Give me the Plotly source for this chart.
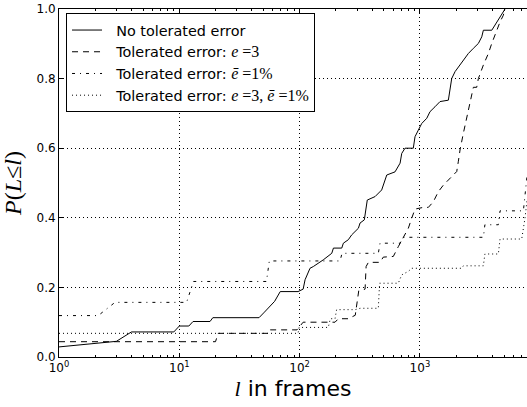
import plotly.graph_objects as go

# ---- data ----
l_solid = [1, 3, 4, 9, 10, 12, 13, 18, 19, 46, 51, 57, 62, 69, 97, 107, 111, 122, 130, 157,
           185, 191, 224, 231, 254, 271, 308, 318, 345, 365, 424, 481, 530, 621, 684, 706, 752, 881, 910, 970,
           1035, 1140, 1213, 1334, 1469, 1723, 1779, 1837, 1959, 2155, 2296, 2525, 2781, 3060, 3265, 3368,
           3955, 4210, 4485, 4786, 5098]
p_solid = [0.029, 0.045, 0.072, 0.072, 0.089, 0.089, 0.102, 0.102, 0.113, 0.113, 0.129, 0.145, 0.160, 0.188,
           0.188, 0.195, 0.222, 0.255, 0.260, 0.279, 0.298, 0.313, 0.313, 0.327, 0.337, 0.351, 0.370, 0.385,
           0.394, 0.451, 0.461, 0.480, 0.523, 0.532, 0.557, 0.585, 0.600, 0.600, 0.633, 0.652, 0.671, 0.686,
           0.705, 0.719, 0.734, 0.738, 0.777, 0.800, 0.820, 0.839, 0.853, 0.872, 0.887, 0.901, 0.920, 0.939,
           0.939, 0.954, 0.968, 0.982, 1.000]

l_dash = [1, 20, 21, 56, 57, 95, 107, 197, 210, 254, 290, 302, 310, 350, 357, 373, 466, 496, 601, 661,
          684, 801, 855, 910, 1068, 1175, 1292, 1422, 1567, 1779, 2023, 2084, 2155, 2296, 2525, 2697, 2781,
          2965, 3060, 3368, 3704, 3955, 4210, 4349, 4634, 4935, 5098]
p_dash = [0.044, 0.044, 0.068, 0.068, 0.078, 0.078, 0.100, 0.100, 0.110, 0.110, 0.120, 0.170, 0.190, 0.195,
          0.260, 0.272, 0.272, 0.287, 0.289, 0.317, 0.327, 0.370, 0.399, 0.425, 0.430, 0.430, 0.446, 0.475,
          0.494, 0.514, 0.533, 0.561, 0.595, 0.643, 0.710, 0.758, 0.775, 0.775, 0.800, 0.839, 0.872, 0.901,
          0.925, 0.940, 0.963, 0.982, 1.000]

l_dashdot = [1, 2.12, 2.92, 11.5, 13.1, 53, 56, 217, 225, 451, 466, 684, 728, 3368, 3467, 4485, 4634, 7244, 7762]
p_dashdot = [0.119, 0.119, 0.157, 0.157, 0.217, 0.217, 0.276, 0.276, 0.298, 0.298, 0.327, 0.327, 0.344, 0.344,
             0.380, 0.380, 0.420, 0.420, 0.520]

l_dot = [1, 97, 99, 173, 180, 197, 203, 289, 318, 451, 462, 661, 706, 801, 855, 2225, 2296, 3368, 3467,
         4485, 4634, 7015, 7476, 7762]
p_dot = [0.068, 0.068, 0.085, 0.085, 0.110, 0.110, 0.136, 0.136, 0.140, 0.140, 0.212, 0.212, 0.236, 0.246,
         0.255, 0.255, 0.262, 0.262, 0.296, 0.296, 0.339, 0.339, 0.400, 0.450]

MATH = "font-family:'Liberation Serif';font-size:16px"
PAD = "\u00a0\u00a0"
names = [
    PAD + "No tolerated error",
    PAD + f"Tolerated error: <span style=\"{MATH}\"><i>e</i> =3</span>",
    PAD + f"Tolerated error: <span style=\"{MATH}\"><i>ē</i> =1%</span>",
    PAD + f"Tolerated error: <span style=\"{MATH}\"><i>e</i> =3, <i>ē</i> =1%</span>",
]

x_tick_vals = [1, 10, 100, 1000]
x_tick_text = ["10<sup>0</sup>", "10<sup>1</sup>", "10<sup>2</sup>", "10<sup>3</sup>"]
y_tick_vals = [0.0, 0.2, 0.4, 0.6, 0.8, 1.0]
y_tick_text = ["0.0", "0.2", "0.4", "0.6", "0.8", "1.0"]

series = [
    (names[0], l_solid, p_solid, "solid"),
    (names[1], l_dash, p_dash, "6px,5px"),
    (names[2], l_dashdot, p_dashdot, "3px,5px,1px,5px"),
    (names[3], l_dot, p_dot, "1px,3px"),
]

fig = go.Figure()
for name, xs, ys, dash in series:
    fig.add_trace(go.Scatter(x=xs, y=ys, mode="lines", name=name,
                             line=dict(color="black", width=1, dash=dash)))

minor_vals = [m * 10 ** k for k in range(4) for m in range(2, 10)]

fig.update_layout(
    width=527, height=407,
    margin=dict(l=59, r=0, t=9, b=50),
    paper_bgcolor="white", plot_bgcolor="white",
    font=dict(family="DejaVu Sans", size=12, color="black"),
    showlegend=True,
    legend=dict(x=0.015, y=0.988, xanchor="left", yanchor="top",
                bgcolor="white", bordercolor="black", borderwidth=1,
                font=dict(family="DejaVu Sans", size=14.4, color="black"),
                itemwidth=30, tracegroupgap=0),
)
fig.update_xaxes(
    type="log", range=[0, 3.89],
    tickvals=x_tick_vals, ticktext=x_tick_text,
    ticks="inside", ticklen=4, tickcolor="black",
    showline=True, linecolor="black", linewidth=1, mirror="ticks",
    showgrid=True, gridcolor="black", gridwidth=0.7, griddash="1px,3px",
    zeroline=False,
    minor=dict(tickvals=minor_vals, ticks="inside", ticklen=2, tickcolor="black", showgrid=False),
    tickfont=dict(family="DejaVu Sans", size=12, color="black"),
    title=dict(text="<span style=\"font-family:'Liberation Serif'\"><i>l</i></span> in frames",
               font=dict(family="DejaVu Sans", size=22, color="black"), standoff=6),
    automargin=False,
)
fig.update_yaxes(
    range=[0, 1],
    tickvals=y_tick_vals, ticktext=y_tick_text,
    ticks="inside", ticklen=4, tickcolor="black",
    showline=True, linecolor="black", linewidth=1, mirror=False,
    showgrid=True, gridcolor="black", gridwidth=0.7, griddash="1px,3px",
    zeroline=False,
    tickfont=dict(family="DejaVu Sans", size=12, color="black"),
    title=dict(text="<i>P</i>(<i>L</i>≤<i>l</i>)",
               font=dict(family="Liberation Serif", size=24, color="black"), standoff=8),
    automargin=False,
)

fig.write_html("out.html")
